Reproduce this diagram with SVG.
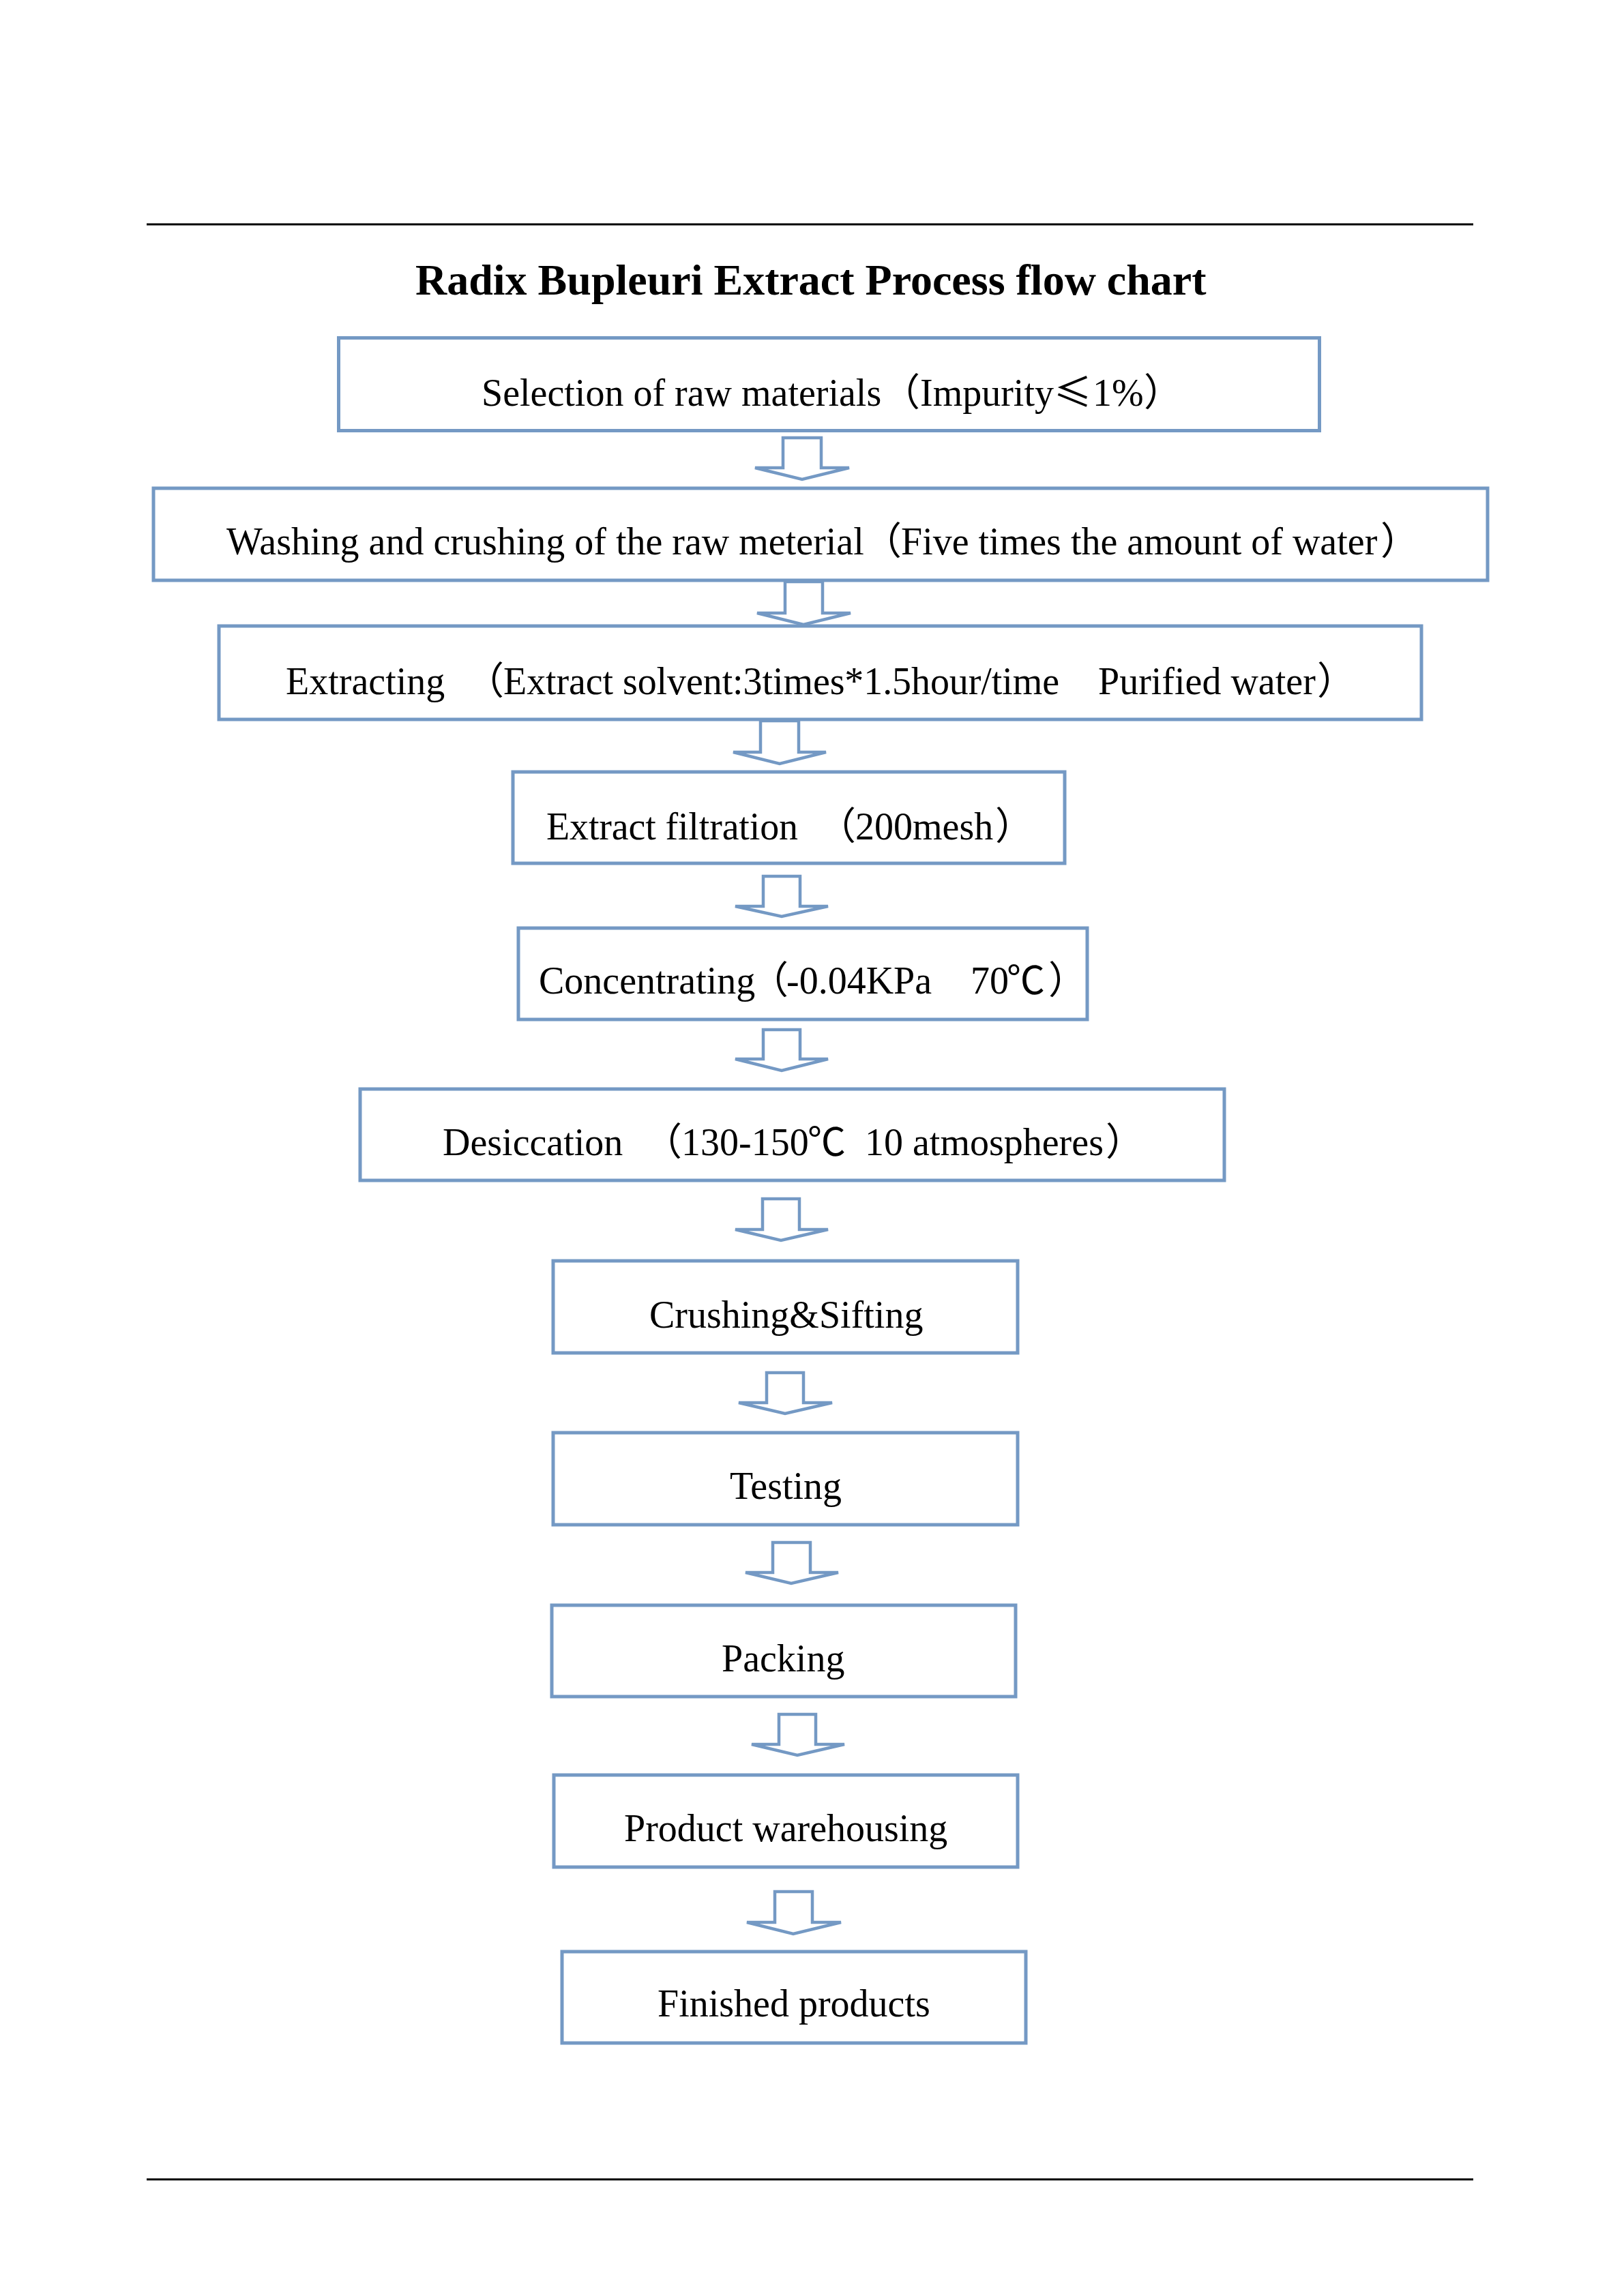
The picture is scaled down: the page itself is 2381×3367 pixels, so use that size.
<svg xmlns="http://www.w3.org/2000/svg" width="2381" height="3367" viewBox="0 0 2381 3367">
<style>
.bg{fill:#ffffff}
.rule{stroke:#000000;stroke-width:3;fill:none}
.box rect{fill:#ffffff;stroke:#7499C4;stroke-width:5}
.arrow{fill:#ffffff;stroke:#7499C4;stroke-width:4.5;stroke-linejoin:miter;stroke-miterlimit:4}
.lbl{font-family:"Liberation Serif","Times New Roman","Noto Sans CJK SC",serif;font-size:56px;fill:#000000}
.cjk{font-family:"Noto Sans CJK SC","Noto Sans CJK JP",serif}
.title{font-family:"Liberation Serif","Times New Roman",serif;font-size:64px;font-weight:bold;fill:#000000}
</style>
<rect class="bg" x="0" y="0" width="2381" height="3367"/>
<line class="rule" x1="215" y1="329" x2="2160" y2="329"/>
<line class="rule" x1="215" y1="3196" x2="2160" y2="3196"/>
<text class="title" x="609" y="432">Radix Bupleuri Extract Process flow chart</text>

<g id="connectors">
<path class="arrow" d="M1148,642 H1204 V686 H1245 L1176,703 L1107,686 H1148 Z"/>
<path class="arrow" d="M1151,853 H1206 V899 H1247 L1178,916 L1110,899 H1151 Z"/>
<path class="arrow" d="M1115,1057 H1171 V1103 H1211 L1143,1120 L1075,1103 H1115 Z"/>
<path class="arrow" d="M1119,1285 H1173 V1329 H1214 L1146,1344 L1078,1329 H1119 Z"/>
<path class="arrow" d="M1119,1510 H1173 V1553 H1214 L1146,1570 L1078,1553 H1119 Z"/>
<path class="arrow" d="M1118,1758 H1172 V1803 H1214 L1145,1819 L1078,1803 H1118 Z"/>
<path class="arrow" d="M1124,2013 H1178 V2057 H1220 L1151,2073 L1083,2057 H1124 Z"/>
<path class="arrow" d="M1133,2262 H1188 V2306 H1229 L1160,2322 L1093,2306 H1133 Z"/>
<path class="arrow" d="M1142,2514 H1196 V2558 H1238 L1169,2574 L1102,2558 H1142 Z"/>
<path class="arrow" d="M1136,2774 H1191 V2819 H1233 L1163,2836 L1095,2819 H1136 Z"/>
</g>

<g id="n1" class="box">
<rect x="496.5" y="495.5" width="1438" height="136"/>
<text class="lbl" y="595"><tspan x="706">Selection of raw materials</tspan><tspan x="1293" class="cjk">（</tspan><tspan x="1349">Impurity</tspan><tspan x="1545" class="cjk">≤</tspan><tspan x="1602">1%</tspan><tspan x="1677" class="cjk">）</tspan></text>
</g>
<g id="n2" class="box">
<rect x="225" y="716" width="1956" height="135"/>
<text class="lbl" y="813"><tspan x="332">Washing and crushing of the raw meterial</tspan><tspan x="1266" class="cjk">（</tspan><tspan x="1321">Five times the amount of water</tspan><tspan x="2024" class="cjk">）</tspan></text>
</g>
<g id="n3" class="box">
<rect x="321" y="918" width="1763" height="137"/>
<text class="lbl" y="1018"><tspan x="419">Extracting</tspan><tspan x="683" class="cjk">（</tspan><tspan x="738" textLength="815" lengthAdjust="spacing">Extract solvent:3times*1.5hour/time</tspan><tspan x="1610">Purified water</tspan><tspan x="1931" class="cjk">）</tspan></text>
</g>
<g id="n4" class="box">
<rect x="752" y="1132" width="809" height="134"/>
<text class="lbl" y="1231"><tspan x="801" textLength="369" lengthAdjust="spacing">Extract filtration</tspan><tspan x="1199" class="cjk">（</tspan><tspan x="1254">200mesh</tspan><tspan x="1459" class="cjk">）</tspan></text>
</g>
<g id="n5" class="box">
<rect x="760" y="1361" width="834" height="134"/>
<text class="lbl" y="1457"><tspan x="790">Concentrating</tspan><tspan x="1100" class="cjk">（</tspan><tspan x="1153">-0.04KPa</tspan><tspan x="1423">70</tspan><tspan x="1476" class="cjk">℃</tspan><tspan x="1537" class="cjk">）</tspan></text>
</g>
<g id="n6" class="box">
<rect x="528" y="1597" width="1267" height="134"/>
<text class="lbl" y="1694"><tspan x="649">Desiccation</tspan><tspan x="944" class="cjk">（</tspan><tspan x="999">130-150</tspan><tspan x="1184" class="cjk">℃</tspan><tspan x="1268">10 atmospheres</tspan><tspan x="1621" class="cjk">）</tspan></text>
</g>
<g id="n7" class="box">
<rect x="811" y="1849" width="681" height="135"/>
<text class="lbl" x="952" y="1947">Crushing&amp;Sifting</text>
</g>
<g id="n8" class="box">
<rect x="811" y="2101" width="681" height="135"/>
<text class="lbl" x="1070" y="2198">Testing</text>
</g>
<g id="n9" class="box">
<rect x="809" y="2354" width="680" height="134"/>
<text class="lbl" x="1058" y="2451">Packing</text>
</g>
<g id="n10" class="box">
<rect x="812" y="2603" width="680" height="135"/>
<text class="lbl" x="915" y="2700">Product warehousing</text>
</g>
<g id="n11" class="box">
<rect x="824" y="2862" width="680" height="134"/>
<text class="lbl" x="964" y="2957">Finished products</text>
</g>
</svg>
